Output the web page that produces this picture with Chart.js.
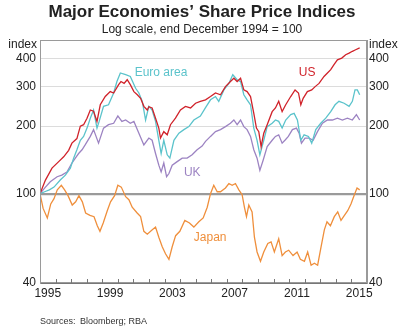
<!DOCTYPE html>
<html>
<head>
<meta charset="utf-8">
<script src="https://cdn.jsdelivr.net/npm/chart.js@4.4.0/dist/chart.umd.min.js"></script>
<style>
  html, body { margin: 0; padding: 0; background: #fff; }
</style>
</head>
<body>
<canvas id="share-chart" width="404" height="334"></canvas>
<script>
// index, end December 1994 = 100
var usYears = [1995.0,1995.35,1995.77,1996.2,1996.52,1996.84,1997.05,1997.37,1997.59,1997.8,1998.02,1998.23,1998.44,1998.66,1998.87,1999.19,1999.51,1999.73,2000.05,2000.2,2000.4,2000.6,2000.8,2001.03,2001.25,2001.46,2001.67,2001.89,2001.99,2002.2,2002.42,2002.63,2002.74,2002.95,2003.17,2003.38,2003.7,2004.02,2004.34,2004.67,2004.99,2005.3,2005.63,2005.95,2006.27,2006.59,2006.91,2007.23,2007.45,2007.66,2007.88,2008.09,2008.3,2008.52,2008.73,2008.9,2009.05,2009.2,2009.37,2009.59,2009.91,2010.12,2010.33,2010.55,2010.78,2011.1,2011.38,2011.6,2011.75,2011.9,2012.17,2012.45,2012.67,2012.92,2013.24,2013.46,2013.67,2013.88,2014.1,2014.38,2014.63,2014.85,2015.06,2015.27,2015.53];
var usValues = [100,115,130,139,146,156,168,176,200,203,217,236,233,210,249,271,285,281,306,316,310,322,306,285,276,266,245,236,244,241,217,196,177,189,183,203,217,236,245,241,253,258,262,271,281,276,300,316,327,316,327,290,285,271,228,196,189,162,186,203,232,241,258,232,249,271,290,281,249,266,285,290,300,310,333,345,357,376,395,402,416,423,431,438,446];

var euroYears = [1995.0,1995.3,1995.6,1995.9,1996.3,1996.63,1996.95,1997.16,1997.37,1997.59,1997.8,1998.02,1998.23,1998.44,1998.66,1998.8,1999.08,1999.4,1999.73,1999.94,2000.16,2000.5,2000.8,2001.14,2001.35,2001.57,2001.78,2001.99,2002.2,2002.42,2002.63,2002.78,2002.95,2003.17,2003.34,2003.6,2003.92,2004.24,2004.56,2004.88,2005.3,2005.63,2005.95,2006.27,2006.48,2006.81,2007.13,2007.38,2007.66,2007.88,2008.09,2008.3,2008.52,2008.73,2008.94,2009.12,2009.37,2009.59,2009.91,2010.12,2010.33,2010.55,2010.78,2011.1,2011.32,2011.53,2011.75,2011.96,2012.24,2012.45,2012.71,2013.03,2013.35,2013.67,2013.95,2014.2,2014.53,2014.85,2015.06,2015.23,2015.38,2015.53];
var euroValues = [100,102,104,107,115,121,130,144,157,173,180,196,217,236,196,210,245,249,281,316,345,339,333,295,281,258,213,245,236,210,173,151,173,149,144,173,186,193,199,213,222,242,262,271,258,290,310,339,322,316,276,262,249,196,173,149,173,199,206,213,210,196,213,225,228,213,173,183,180,168,193,206,217,232,249,258,253,245,258,290,290,276];

var ukYears = [1995.0,1995.35,1995.66,1996.1,1996.4,1996.73,1997.05,1997.27,1997.48,1997.7,1997.9,1998.23,1998.44,1998.76,1999.08,1999.4,1999.73,2000.0,2000.26,2000.5,2000.8,2001.03,2001.35,2001.67,2001.99,2002.2,2002.42,2002.63,2002.78,2002.95,2003.13,2003.28,2003.49,2003.81,2004.13,2004.45,2004.77,2005.09,2005.41,2005.63,2005.95,2006.27,2006.59,2006.91,2007.23,2007.45,2007.66,2007.88,2008.09,2008.3,2008.52,2008.73,2008.94,2009.12,2009.33,2009.59,2009.91,2010.12,2010.33,2010.55,2010.76,2010.95,2011.21,2011.47,2011.64,2011.79,2012.02,2012.28,2012.54,2012.82,2013.14,2013.46,2013.78,2014.1,2014.42,2014.74,2015.06,2015.32,2015.53];
var ukValues = [100,107,113,119,121,125,137,144,151,157,165,180,193,168,196,203,206,222,210,213,206,210,186,165,177,173,151,134,125,137,119,123,134,139,144,144,149,157,163,171,180,189,193,199,206,213,203,213,199,193,180,157,144,127,141,162,173,180,183,168,174,180,193,196,186,168,177,177,173,189,206,213,213,217,213,217,213,225,213];

var japanYears = [1995.0,1995.2,1995.47,1995.69,1995.9,1996.11,1996.37,1996.58,1996.8,1997.07,1997.29,1997.5,1997.72,1997.93,1998.21,1998.47,1998.68,1998.85,1999.06,1999.32,1999.53,1999.79,2000.0,2000.22,2000.5,2000.71,2000.92,2001.24,2001.46,2001.67,2001.89,2002.21,2002.42,2002.63,2002.85,2003.06,2003.28,2003.49,2003.71,2003.98,2004.3,2004.6,2004.88,2005.2,2005.48,2005.74,2005.95,2006.16,2006.38,2006.59,2006.91,2007.13,2007.34,2007.55,2007.77,2007.98,2008.13,2008.26,2008.41,2008.62,2008.77,2008.94,2009.16,2009.37,2009.63,2009.84,2010.05,2010.33,2010.55,2010.76,2010.97,2011.25,2011.51,2011.72,2011.98,2012.19,2012.41,2012.62,2012.83,2013.05,2013.26,2013.43,2013.65,2013.9,2014.12,2014.33,2014.55,2014.76,2014.97,2015.19,2015.36,2015.53];
var japanValues = [100,86,78,90,95,104,109,104,98,89,92,98,92,82,80,79,72,68,74,84,92,98,109,107,97,94,87,82,79,68,66,69,71,64,58,54,51,58,65,68,76,74,71,75,78,87,100,109,102,102,106,111,109,111,104,99,87,79,89,83,64,55,50,55,60,61,55,63,53,55,56,53,55,51,50,55,48,49,48,58,69,75,72,79,83,76,80,84,90,99,106,104];

var yTicks = [40, 100, 200, 300, 400];
var labelYears = [1995, 1999, 2003, 2007, 2011, 2015];

// in-chart series names, anchored in data units
var seriesNames = ['Euro area', 'US', 'UK', 'Japan'];
var nameAtYear = [2002.77, 2012.15, 2004.78, 2005.93];
var nameAtValue = [345, 347, 124, 64];

var colors = {
  us: '#d0222a',
  euro: '#5bc3cb',
  uk: '#9c83c2',
  japan: '#ef8f3c'
};
var nameColors = [colors.euro, colors.us, colors.uk, colors.japan];
var font = '"Liberation Sans", Arial, sans-serif';

function points(xs, ys) {
  return xs.map(function(x, i) { return { x: x, y: ys[i] }; });
}

function line(label, xs, ys, color) {
  return {
    label: label,
    data: points(xs, ys),
    borderColor: color,
    borderWidth: 1.3,
    pointRadius: 0,
    fill: false,
    tension: 0
  };
}

var extras = {
  id: 'extras',
  beforeDraw: function(chart) {
    var c = chart.ctx;
    c.save();
    c.fillStyle = '#fff';
    c.fillRect(0, 0, chart.width, chart.height);
    c.restore();
  },
  afterDatasetsDraw: function(chart) {
    var c = chart.ctx, xs = chart.scales.x, ys = chart.scales.y;
    c.save();
    c.font = '12px ' + font;
    c.textAlign = 'center';
    c.textBaseline = 'middle';
    seriesNames.forEach(function(name, i) {
      c.fillStyle = nameColors[i];
      c.fillText(name, xs.getPixelForValue(nameAtYear[i]), ys.getPixelForValue(nameAtValue[i]));
    });
    c.restore();
  },
  afterDraw: function(chart) {
    var c = chart.ctx, a = chart.chartArea, xs = chart.scales.x;
    c.save();
    // frame
    c.strokeStyle = '#9a9a9a';
    c.lineWidth = 1;
    c.strokeRect(a.left + 0.5, a.top + 0.5, a.right - a.left - 1, a.bottom - a.top - 1);
    // year tick marks pointing up
    c.strokeStyle = '#777';
    for (var yr = 1996; yr <= 2015; yr++) {
      var px = Math.round(xs.getPixelForValue(yr)) + 0.5;
      c.beginPath();
      c.moveTo(px, a.bottom);
      c.lineTo(px, a.bottom - 4);
      c.stroke();
    }
    c.fillStyle = '#222';
    c.textBaseline = 'middle';
    c.textAlign = 'center';
    c.font = 'bold 17px ' + font;
    c.fillText('Major Economies\u2019 Share Price Indices', 202, 12);
    c.font = '12px ' + font;
    c.fillText('Log scale, end December 1994 = 100', 202, 30);
    c.textAlign = 'right';
    c.fillText('index', 37, 45);
    c.textAlign = 'left';
    c.fillText('index', 369, 45);
    c.font = '9px ' + font;
    c.fillStyle = '#333';
    c.fillText('Sources:', 40, 322);
    c.fillText('Bloomberg; RBA', 80, 322);
    c.restore();
  }
};

var ctx = document.getElementById('share-chart');

var shareChart = new Chart(ctx, {
  type: 'line',
  data: {
    datasets: [
      line('US', usYears, usValues, colors.us),
      line('Euro area', euroYears, euroValues, colors.euro),
      line('UK', ukYears, ukValues, colors.uk),
      line('Japan', japanYears, japanValues, colors.japan)
    ]
  },
  options: {
    responsive: false,
    animation: false,
    events: [],
    layout: { padding: { top: 40, left: 0, right: 0, bottom: 0 } },
    plugins: {
      legend: { display: false },
      title: { display: false },
      tooltip: { enabled: false }
    },
    scales: {
      x: {
        type: 'linear',
        min: 1995,
        max: 2016,
        afterBuildTicks: function(axis) {
          axis.ticks = labelYears.map(function(y) { return { value: y + 0.5 }; });
        },
        afterFit: function(axis) { axis.height = 51; },
        grid: { display: false, drawTicks: false },
        border: { display: true, color: '#777', width: 1 },
        ticks: {
          autoSkip: false,
          maxRotation: 0,
          padding: 3,
          color: '#222',
          font: { family: font, size: 12 },
          callback: function(v) { return String(Math.floor(v)); }
        }
      },
      y: {
        type: 'logarithmic',
        position: 'left',
        min: 40,
        max: 484,
        afterBuildTicks: function(axis) {
          axis.ticks = yTicks.map(function(v) { return { value: v }; });
        },
        afterFit: function(axis) { axis.width = 40; },
        grid: {
          drawTicks: false,
          color: function(c) {
            if (c.tick && c.tick.value === 100) return '#9a9a9a';
            if (c.tick && c.tick.value === 40) return 'rgba(0,0,0,0)';
            return '#dcdcdc';
          },
          lineWidth: function(c) { return c.tick && c.tick.value === 100 ? 2.2 : 1; }
        },
        border: { display: true, color: '#9a9a9a' },
        ticks: {
          autoSkip: false,
          padding: 4,
          color: '#222',
          font: { family: font, size: 12 },
          callback: function(v) { return String(v); }
        }
      },
      y2: {
        type: 'logarithmic',
        position: 'right',
        min: 40,
        max: 484,
        afterBuildTicks: function(axis) {
          axis.ticks = yTicks.map(function(v) { return { value: v }; });
        },
        afterFit: function(axis) { axis.width = 37; },
        grid: { display: false, drawTicks: false },
        border: { display: true, color: '#9a9a9a' },
        ticks: {
          autoSkip: false,
          padding: 2,
          color: '#222',
          font: { family: font, size: 12 },
          callback: function(v) { return String(v); }
        }
      }
    }
  },
  plugins: [extras]
});
</script>
</body>
</html>
